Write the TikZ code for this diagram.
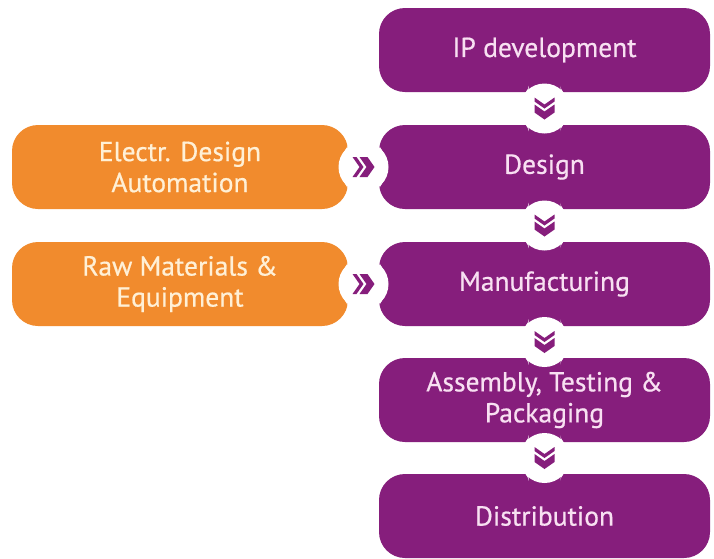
\documentclass[tikz,border=0pt]{standalone}
\usepackage{fontspec}
\setmainfont{PT Sans}[FakeBold=0.6]
\usetikzlibrary{calc}
\definecolor{plum}{RGB}{134,30,124}
\definecolor{tang}{RGB}{241,139,45}
\definecolor{plumtext}{RGB}{248,224,242}
\definecolor{tangtext}{RGB}{255,240,214}
\begin{document}
\begin{tikzpicture}[x=1pt,y=1pt,
  stage/.style={fill=plum, text=plumtext, rounded corners=26pt,
    minimum width=331pt, minimum height=84pt, inner sep=0pt,
    align=center, font=\fontsize{27.5}{31}\selectfont},
  supply/.style={stage, fill=tang, text=tangtext, minimum width=336pt},
  % one rounded fillet where the notch meets a box edge
  fillet/.pic={\fill[white] (16,0) -- (18.18,17.16)
      arc[start angle=223.3, end angle=180, radius=8] -- cycle;},
  % white notch cut into both neighbouring boxes, with a double chevron
  link/.pic={
    \fill[white] (0,0) circle (25);
    \foreach \sx in {1,-1}{\foreach \sy in {1,-1}{
      \pic[xscale=\sx, yscale=\sy]{fillet};}}
    \fill[plum] (-11,10) -- (-7,10) -- (0,0) -- (-7,-10)
      -- (-11,-10) -- (-4,0) -- cycle;
    \fill[plum] (-4,10) -- (4,10) -- (11,0) -- (4,-10)
      -- (-4,-10) -- (3,0) -- cycle;
  }]
\fill[white] (0,0) rectangle (714,-558);
\useasboundingbox (0,0) rectangle (714,-558);

% value chain (purple)
\node[stage] (ip)  at (544.5,-50)  {IP development};
\node[stage] (des) at (544.5,-167) {Design};
\node[stage] (man) at (544.5,-284) {Manufacturing};
\node[stage] (atp) at (544.5,-400) {Assembly, Testing \&\\Packaging};
\node[stage] (dis) at (544.5,-516) {Distribution};

% suppliers (orange)
\node[supply] (eda) at (180,-167) {Electr. Design\\Automation};
\node[supply] (raw) at (180,-284) {Raw Materials \&\\Equipment};

% links down the chain
\path ($(ip.south)!.5!(des.north)$)  pic[rotate=-90]{link};
\path ($(des.south)!.5!(man.north)$) pic[rotate=-90]{link};
\path ($(man.south)!.5!(atp.north)$) pic[rotate=-90]{link};
\path ($(atp.south)!.5!(dis.north)$) pic[rotate=-90]{link};

% links from suppliers
\path ($(eda.east)!.5!(des.west)$) pic{link};
\path ($(raw.east)!.5!(man.west)$) pic{link};
\end{tikzpicture}
\end{document}
